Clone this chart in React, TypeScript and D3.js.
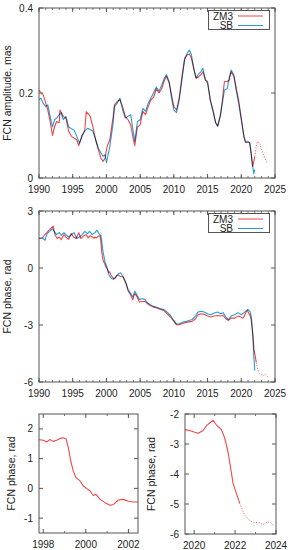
import * as d3 from "d3";

// FCN amplitude (mas), ZM3 and SB series
const zm3AmpYears = [1990.0, 1990.3, 1990.6, 1991.0, 1991.3, 1991.6, 1992.0, 1992.3, 1992.6, 1993.0, 1993.1, 1993.6, 1994.0, 1994.4, 1994.8, 1995.2, 1995.6, 1995.9, 1996.4, 1996.8, 1997.0, 1997.6, 1998.0, 1998.4, 1998.8, 1999.2, 1999.5, 1999.8, 2000.1, 2000.5, 2001.0, 2001.2, 2001.6, 2002.0, 2002.4, 2002.8, 2003.2, 2003.6, 2004.0, 2004.2, 2004.6, 2005.0, 2005.4, 2005.8, 2006.2, 2006.6, 2007.0, 2007.4, 2007.8, 2008.2, 2008.6, 2008.9, 2009.3, 2009.7, 2010.0, 2010.4, 2010.8, 2011.2, 2011.6, 2012.0, 2012.3, 2012.6, 2013.0, 2013.3, 2013.6, 2014.0, 2014.3, 2014.7, 2015.0, 2015.4, 2015.8, 2016.2, 2016.5, 2016.9, 2017.2, 2017.5, 2017.9, 2018.2, 2018.5, 2018.9, 2019.2, 2019.6, 2020.0, 2020.4, 2020.6, 2021.2, 2021.45, 2021.7, 2022.0, 2022.35, 2022.7, 2023.0, 2023.3, 2023.6, 2023.8];
const zm3Amp = [0.207, 0.2, 0.196, 0.176, 0.16, 0.137, 0.1, 0.12, 0.133, 0.13, 0.16, 0.145, 0.14, 0.11, 0.098, 0.094, 0.09, 0.076, 0.1, 0.113, 0.156, 0.145, 0.12, 0.09, 0.066, 0.046, 0.039, 0.047, 0.074, 0.09, 0.145, 0.172, 0.18, 0.184, 0.168, 0.145, 0.137, 0.125, 0.09, 0.076, 0.12, 0.125, 0.157, 0.149, 0.168, 0.184, 0.19, 0.21, 0.2, 0.21, 0.23, 0.239, 0.224, 0.192, 0.168, 0.16, 0.19, 0.239, 0.282, 0.29, 0.292, 0.282, 0.254, 0.235, 0.237, 0.243, 0.25, 0.23, 0.227, 0.184, 0.16, 0.13, 0.123, 0.145, 0.184, 0.227, 0.227, 0.23, 0.25, 0.239, 0.216, 0.184, 0.141, 0.095, 0.084, 0.084, 0.06, 0.027, 0.05, 0.086, 0.082, 0.068, 0.055, 0.042, 0.037];

const sbAmpYears = [1990.0, 1990.3, 1990.6, 1991.0, 1991.3, 1991.6, 1992.0, 1992.3, 1992.6, 1993.0, 1993.3, 1993.6, 1994.0, 1994.4, 1994.8, 1995.2, 1995.6, 1996.0, 1996.4, 1996.8, 1997.2, 1997.6, 1998.0, 1998.4, 1998.8, 1999.2, 1999.5, 1999.8, 2000.0, 2000.5, 2001.0, 2001.2, 2001.6, 2002.0, 2002.4, 2002.8, 2003.2, 2003.6, 2004.0, 2004.2, 2004.6, 2005.0, 2005.4, 2005.8, 2006.2, 2006.6, 2007.0, 2007.4, 2007.8, 2008.2, 2008.6, 2008.9, 2009.3, 2009.7, 2010.0, 2010.4, 2010.8, 2011.2, 2011.6, 2012.0, 2012.3, 2012.6, 2013.0, 2013.3, 2013.6, 2014.0, 2014.3, 2014.7, 2015.0, 2015.4, 2015.8, 2016.2, 2016.5, 2016.9, 2017.2, 2017.5, 2017.9, 2018.2, 2018.5, 2018.9, 2019.2, 2019.6, 2020.0, 2020.4, 2020.7, 2021.0, 2021.3, 2021.6, 2021.85, 2022.0];
const sbAmp = [0.184, 0.188, 0.176, 0.168, 0.172, 0.149, 0.12, 0.137, 0.141, 0.149, 0.153, 0.137, 0.145, 0.12, 0.116, 0.113, 0.098, 0.082, 0.1, 0.11, 0.117, 0.114, 0.11, 0.09, 0.07, 0.059, 0.051, 0.055, 0.036, 0.074, 0.13, 0.168, 0.176, 0.188, 0.16, 0.141, 0.145, 0.149, 0.106, 0.086, 0.133, 0.137, 0.164, 0.157, 0.176, 0.188, 0.2, 0.214, 0.204, 0.219, 0.235, 0.243, 0.227, 0.184, 0.16, 0.154, 0.184, 0.231, 0.278, 0.294, 0.301, 0.29, 0.254, 0.235, 0.243, 0.25, 0.258, 0.23, 0.223, 0.184, 0.157, 0.13, 0.121, 0.149, 0.176, 0.207, 0.21, 0.235, 0.254, 0.243, 0.21, 0.176, 0.137, 0.098, 0.084, 0.086, 0.082, 0.035, 0.01, 0.02];

// FCN phase (rad)
const zm3PhaseYears = [1990.0, 1990.5, 1991.0, 1991.5, 1992.1, 1992.4, 1992.7, 1993.0, 1993.3, 1993.7, 1994.0, 1994.4, 1994.8, 1995.1, 1995.5, 1995.9, 1996.2, 1996.6, 1997.0, 1997.3, 1997.6, 1997.8, 1998.0, 1998.16, 1998.31, 1998.47, 1998.63, 1998.78, 1998.94, 1999.07, 1999.18, 1999.29, 1999.41, 1999.54, 1999.73, 1999.88, 2000.05, 2000.2, 2000.35, 2000.48, 2000.67, 2000.9, 2001.14, 2001.3, 2001.53, 2001.76, 2002.0, 2002.24, 2002.47, 2002.9, 2003.2, 2003.6, 2003.9, 2004.2, 2004.5, 2004.9, 2005.3, 2005.7, 2006.1, 2006.5, 2007.0, 2007.5, 2008.0, 2008.5, 2009.0, 2009.5, 2010.0, 2010.4, 2010.8, 2011.3, 2012.0, 2012.7, 2013.2, 2013.6, 2014.0, 2014.5, 2015.0, 2015.5, 2016.0, 2016.5, 2016.9, 2017.3, 2017.7, 2018.1, 2018.5, 2019.0, 2019.55, 2019.8, 2020.03, 2020.2, 2020.44, 2020.6, 2020.76, 2020.92, 2021.08, 2021.33, 2021.49, 2021.65, 2021.77, 2021.9, 2022.06, 2022.22, 2022.46, 2022.7, 2022.95, 2023.19, 2023.35, 2023.6, 2023.76, 2023.92];
const zm3Phase = [1.55, 1.58, 1.81, 1.99, 2.21, 1.72, 1.55, 1.63, 1.49, 1.76, 1.63, 1.51, 1.81, 1.63, 1.55, 1.86, 1.55, 1.69, 1.76, 1.58, 1.7, 1.64, 1.62, 1.56, 1.64, 1.58, 1.62, 1.68, 1.7, 1.67, 1.36, 0.92, 0.58, 0.36, 0.25, 0.08, -0.01, -0.09, -0.24, -0.2, -0.37, -0.48, -0.57, -0.54, -0.39, -0.37, -0.43, -0.46, -0.46, -0.83, -1.18, -1.44, -1.67, -1.35, -1.49, -1.79, -1.76, -1.76, -1.88, -1.97, -2.06, -2.11, -2.18, -2.23, -2.41, -2.58, -2.81, -2.99, -2.99, -2.92, -2.85, -2.81, -2.67, -2.46, -2.41, -2.44, -2.53, -2.58, -2.53, -2.5, -2.53, -2.5, -2.67, -2.76, -2.64, -2.64, -2.52, -2.56, -2.61, -2.64, -2.55, -2.39, -2.3, -2.21, -2.36, -2.52, -2.8, -3.25, -3.75, -4.31, -4.64, -4.97, -5.36, -5.55, -5.62, -5.62, -5.69, -5.59, -5.64, -5.73];

const sbPhaseYears = [1990.0, 1990.5, 1990.9, 1991.2, 1991.6, 1992.0, 1992.3, 1992.6, 1993.0, 1993.3, 1993.7, 1994.0, 1994.4, 1994.8, 1995.2, 1995.6, 1996.0, 1996.4, 1996.8, 1997.2, 1997.5, 1997.9, 1998.3, 1998.6, 1998.9, 1999.2, 1999.5, 1999.8, 2000.1, 2000.4, 2000.7, 2001.0, 2001.4, 2001.8, 2002.1, 2002.5, 2002.9, 2003.2, 2003.6, 2003.9, 2004.2, 2004.5, 2004.9, 2005.3, 2005.7, 2006.1, 2006.5, 2007.0, 2007.5, 2008.0, 2008.5, 2009.0, 2009.5, 2010.0, 2010.4, 2010.8, 2011.3, 2012.0, 2012.7, 2013.2, 2013.6, 2014.0, 2014.5, 2015.0, 2015.5, 2016.0, 2016.5, 2016.9, 2017.3, 2017.7, 2018.1, 2018.5, 2019.0, 2019.5, 2020.0, 2020.4, 2020.8, 2021.0, 2021.3, 2021.5, 2021.7, 2021.85, 2022.0];
const sbPhase = [1.58, 1.58, 1.46, 1.81, 1.93, 2.07, 1.9, 1.76, 1.86, 1.72, 1.86, 1.76, 1.63, 1.76, 1.86, 1.55, 1.63, 1.76, 1.93, 1.81, 1.93, 1.76, 1.86, 1.99, 1.81, 1.69, 0.84, 0.32, 0.0, -0.39, -0.53, -0.6, -0.47, -0.3, -0.25, -0.47, -0.77, -1.12, -1.35, -1.53, -1.23, -1.41, -1.65, -1.62, -1.65, -1.83, -1.93, -2.02, -2.07, -2.14, -2.18, -2.32, -2.5, -2.76, -2.95, -2.93, -2.85, -2.79, -2.71, -2.53, -2.32, -2.28, -2.32, -2.41, -2.46, -2.37, -2.32, -2.41, -2.35, -2.58, -2.71, -2.53, -2.46, -2.35, -2.46, -2.35, -2.23, -2.18, -2.28, -2.58, -3.55, -4.6, -5.4];

const FORECAST_START = 2022.25;

const seriesNames = ["ZM3", "SB"];
const mainYearTicks = [1990, 1995, 2000, 2005, 2010, 2015, 2020, 2025];
const ampTicks = [0, 0.2, 0.4];
const ampTickLabels = ["0", "0.2", "0.4"];
const phaseTicks = [-6, -3, 0, 3];
const zoomEarlyYearTicks = [1998, 2000, 2002];
const zoomEarlyPhaseTicks = [-1, 0, 1, 2];
const zoomLateYearTicks = [2020, 2022, 2024];
const zoomLatePhaseTicks = [-6, -5, -4, -3, -2];

const RED = "#ef4747";
const BLUE = "#2d9ad8";
const FRAME = "#555";
const FONT = "'Liberation Sans', Arial, Helvetica, sans-serif";

type Line = { years: number[]; values: number[]; color: string; forecast?: boolean };

type PanelProps = {
  id: string;
  left: number;
  right: number;
  top: number;
  bottom: number;
  xDomain: [number, number];
  yDomain: [number, number];
  xTicks: number[];
  xMinor: number[];
  yTicks: number[];
  yLabels?: string[];
  yTitle: string;
  titleX: number;
  lines: Line[];
  legend?: boolean;
};

function Panel(p: PanelProps) {
  const x = d3.scaleLinear().domain(p.xDomain).range([p.left, p.right]);
  const y = d3.scaleLinear().domain(p.yDomain).range([p.bottom, p.top]);
  const line = d3
    .line<[number, number]>()
    .x((d) => x(d[0]))
    .y((d) => y(d[1]));

  const paths: JSX.Element[] = [];
  p.lines.forEach((s, si) => {
    const pts: [number, number][] = s.years.map((yr, i) => [yr, s.values[i]]);
    let idx = pts.findIndex((d) => d[0] > FORECAST_START);
    if (!s.forecast || idx < 0) idx = pts.length;
    const solid = pts.slice(0, idx);
    const dotted = idx < pts.length ? pts.slice(idx - 1) : [];
    paths.push(
      <path
        key={`s${si}`}
        d={line(solid) || ""}
        fill="none"
        stroke={s.color}
        strokeWidth={1.1}
        strokeLinejoin="round"
        style={si > 0 ? { mixBlendMode: "multiply" } : undefined}
      />
    );
    if (dotted.length) {
      paths.push(
        <path
          key={`d${si}`}
          d={line(dotted) || ""}
          fill="none"
          stroke={s.color}
          strokeOpacity={0.75}
          strokeWidth={1}
          strokeDasharray="1.3 1.4"
        />
      );
    }
  });

  const major = 4;
  const minor = 2;
  const cy = (p.top + p.bottom) / 2;

  return (
    <g fontFamily={FONT} fontSize={10} fill="#222">
      <defs>
        <clipPath id={p.id}>
          <rect x={p.left} y={p.top} width={p.right - p.left} height={p.bottom - p.top} />
        </clipPath>
      </defs>
      {/* minor x ticks, mirrored on top */}
      {p.xMinor.map((t) => (
        <g key={`mx${t}`} stroke={FRAME} strokeWidth={0.8}>
          <line x1={x(t)} x2={x(t)} y1={p.bottom} y2={p.bottom - minor} />
          <line x1={x(t)} x2={x(t)} y1={p.top} y2={p.top + minor} />
        </g>
      ))}
      {p.xTicks.map((t) => (
        <g key={`x${t}`}>
          <line x1={x(t)} x2={x(t)} y1={p.bottom} y2={p.bottom - major} stroke={FRAME} />
          <line x1={x(t)} x2={x(t)} y1={p.top} y2={p.top + major} stroke={FRAME} />
          <text x={x(t)} y={p.bottom + 14.5} textAnchor="middle">
            {t}
          </text>
        </g>
      ))}
      {p.yTicks.map((t, i) => (
        <g key={`y${t}`}>
          <line x1={p.left} x2={p.left + major} y1={y(t)} y2={y(t)} stroke={FRAME} />
          <line x1={p.right} x2={p.right - major} y1={y(t)} y2={y(t)} stroke={FRAME} />
          <text x={p.left - 6} y={y(t)} dy="0.35em" textAnchor="end">
            {p.yLabels ? p.yLabels[i] : String(t)}
          </text>
        </g>
      ))}
      <text
        transform={`translate(${p.titleX},${cy}) rotate(-90)`}
        textAnchor="middle"
        fontSize={10.5}
      >
        {p.yTitle}
      </text>
      <g clipPath={`url(#${p.id})`}>{paths}</g>
      <rect
        x={p.left}
        y={p.top}
        width={p.right - p.left}
        height={p.bottom - p.top}
        fill="none"
        stroke={FRAME}
        strokeWidth={1}
      />
      {p.legend && (
        <g>
          <rect x={208.5} y={p.top + 2.5} width={61} height={19} fill="white" stroke={FRAME} strokeWidth={1} />
          {p.lines.map((s, i) => (
            <g key={`lg${i}`}>
              <text x={233} y={p.top + 8 + i * 9.5} dy="0.35em" textAnchor="end">
                {seriesNames[i]}
              </text>
              <line
                x1={238}
                x2={263}
                y1={p.top + 8 + i * 9.5}
                y2={p.top + 8 + i * 9.5}
                stroke={s.color}
                strokeWidth={1}
              />
            </g>
          ))}
        </g>
      )}
    </g>
  );
}

export default function App() {
  const mainMinor = d3.range(1990, 2026, 1);
  const ampLines: Line[] = [
    { years: zm3AmpYears, values: zm3Amp, color: RED, forecast: true },
    { years: sbAmpYears, values: sbAmp, color: BLUE },
  ];
  const phaseLines: Line[] = [
    { years: zm3PhaseYears, values: zm3Phase, color: RED, forecast: true },
    { years: sbPhaseYears, values: sbPhase, color: BLUE },
  ];
  const zm3Only: Line[] = [{ years: zm3PhaseYears, values: zm3Phase, color: RED, forecast: true }];

  return (
    <svg
      width={291}
      height={550}
      style={{ position: "absolute", left: 0, top: 0, background: "white" }}
    >
      <Panel
        id="clipAmp"
        left={39}
        right={275}
        top={8}
        bottom={178}
        xDomain={[1990, 2025]}
        yDomain={[0, 0.4]}
        xTicks={mainYearTicks}
        xMinor={mainMinor}
        yTicks={ampTicks}
        yLabels={ampTickLabels}
        yTitle="FCN amplitude, mas"
        titleX={11}
        lines={ampLines}
        legend
      />
      <Panel
        id="clipPhase"
        left={39}
        right={275}
        top={211}
        bottom={382}
        xDomain={[1990, 2025]}
        yDomain={[-6, 3]}
        xTicks={mainYearTicks}
        xMinor={mainMinor}
        yTicks={phaseTicks}
        yTitle="FCN phase, rad"
        titleX={11}
        lines={phaseLines}
        legend
      />
      <Panel
        id="clipEarly"
        left={39}
        right={138}
        top={414}
        bottom={533}
        xDomain={[1997.8, 2002.45]}
        yDomain={[-1.5, 2.5]}
        xTicks={zoomEarlyYearTicks}
        xMinor={[1999, 2001]}
        yTicks={zoomEarlyPhaseTicks}
        yTitle="FCN phase, rad"
        titleX={15}
        lines={zm3Only}
      />
      <Panel
        id="clipLate"
        left={185}
        right={276}
        top={414}
        bottom={534}
        xDomain={[2019.55, 2024]}
        yDomain={[-6, -2]}
        xTicks={zoomLateYearTicks}
        xMinor={[2021, 2023]}
        yTicks={zoomLatePhaseTicks}
        yTitle="FCN phase, rad"
        titleX={155}
        lines={zm3Only}
      />
    </svg>
  );
}
